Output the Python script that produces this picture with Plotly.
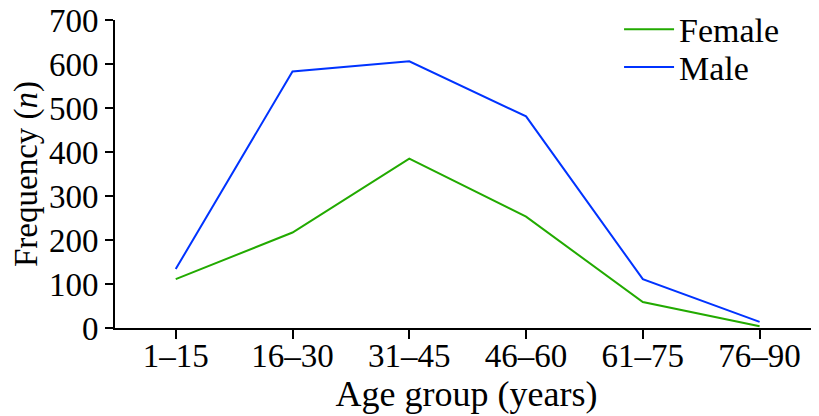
import plotly.graph_objects as go

categories = ["1–15", "16–30", "31–45", "46–60", "61–75", "76–90"]
female = [111, 217, 385, 253, 59, 4]
male = [134, 583, 606, 481, 111, 14]

x_idx = list(range(len(categories)))
FONT = "Liberation Serif, Times New Roman, serif"

fig = go.Figure()
fig.add_trace(go.Scatter(x=x_idx, y=female, mode="lines", name="Female",
                         line=dict(color="#22AA00", width=2), legend="legend"))
fig.add_trace(go.Scatter(x=x_idx, y=male, mode="lines", name="Male",
                         line=dict(color="#0033FF", width=2), legend="legend2"))

leg_common = dict(xanchor="left", yanchor="middle",
                  font=dict(size=34, family=FONT), bgcolor="rgba(0,0,0,0)",
                  itemwidth=50)

fig.update_layout(
    width=811, height=408,
    margin=dict(l=107, r=1, t=11.5, b=87.7, autoexpand=False),
    paper_bgcolor="white", plot_bgcolor="white",
    font=dict(family=FONT, color="black", size=33),
    showlegend=True,
    legend=dict(x=0.717, y=0.969, **leg_common),
    legend2=dict(x=0.717, y=0.846, **leg_common),
)
fig.update_xaxes(
    range=[-0.52, 5.5],
    tickmode="array",
    tickvals=x_idx + [5.5],
    ticktext=categories + [""],
    showline=True, linecolor="black", linewidth=2,
    ticks="outside", ticklen=9, tickwidth=2, tickcolor="black",
    showgrid=False, zeroline=False,
    tickfont=dict(size=33, family=FONT),
    ticklabelstandoff=-12,
    ticklabeloverflow="allow",
    title=dict(text="Age group (years)", font=dict(size=36, family=FONT), standoff=2),
)
fig.update_yaxes(
    range=[0, 700],
    tickmode="array",
    tickvals=[0, 100, 200, 300, 400, 500, 600, 700],
    showline=True, linecolor="black", linewidth=2,
    ticks="outside", ticklen=8, tickwidth=2, tickcolor="black",
    showgrid=False, zeroline=False,
    tickfont=dict(size=33, family=FONT),
    ticklabeloverflow="allow",
    title=dict(text="Frequency (<i>n</i>)", font=dict(size=33, family=FONT), standoff=9),
)

fig.write_html("out.html")
